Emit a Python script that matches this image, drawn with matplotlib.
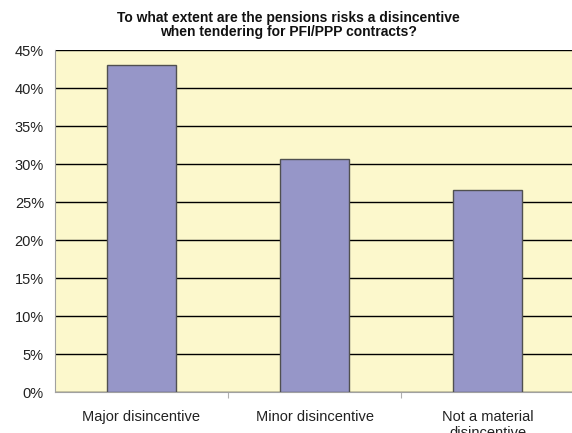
import numpy as np
import matplotlib.pyplot as plt
from matplotlib.ticker import FuncFormatter

plt.rcParams['font.family'] = ['Liberation Sans', 'DejaVu Sans']

categories = ["Major disincentive", "Minor disincentive", "Not a material\ndisincentive"]
values = [43.0, 30.6, 26.6]
yticks = [0, 5, 10, 15, 20, 25, 30, 35, 40, 45]

fig = plt.figure(figsize=(5.72, 4.33), dpi=100)
ax = fig.add_axes([55/572, 41/433, 519/572, 342/433])
ax.set_facecolor("#fcf8cc")

x = np.arange(len(categories))
ax.set_axisbelow(True)
ax.yaxis.grid(True, color="black", linewidth=1.0)
ax.bar(x, values, width=0.40, color="#9696c8", edgecolor="#505050", linewidth=1.0, zorder=3)

ax.set_xlim(-0.5, 2.5)
ax.set_ylim(0, 45)
ax.set_yticks(yticks)
ax.yaxis.set_major_formatter(FuncFormatter(lambda v, p: "%d%%" % v))
ax.set_xticks([0.5, 1.5])
ax.set_xticklabels([])
ax.set_xticks(x, minor=True)
ax.set_xticklabels(categories, minor=True)
ax.tick_params(axis="x", which="major", length=4, color="#b0b0b0", direction="out")
ax.tick_params(axis="x", which="minor", length=0, pad=13, labelsize=10.5, labelcolor="#222222")
ax.tick_params(axis="y", length=0, pad=8, labelsize=10.5, labelcolor="#222222")

for s in ["top", "right"]:
    ax.spines[s].set_visible(False)
ax.spines["left"].set_color("#a0a0a0")
ax.spines["bottom"].set_color("#a0a0a0")

fig.text(0.505, 0.975, "To what extent are the pensions risks a disincentive\nwhen tendering for PFI/PPP contracts?",
         ha="center", va="top", fontsize=10, fontweight="bold", color="#111111", linespacing=1.05)

plt.savefig("out.png", dpi=100)
